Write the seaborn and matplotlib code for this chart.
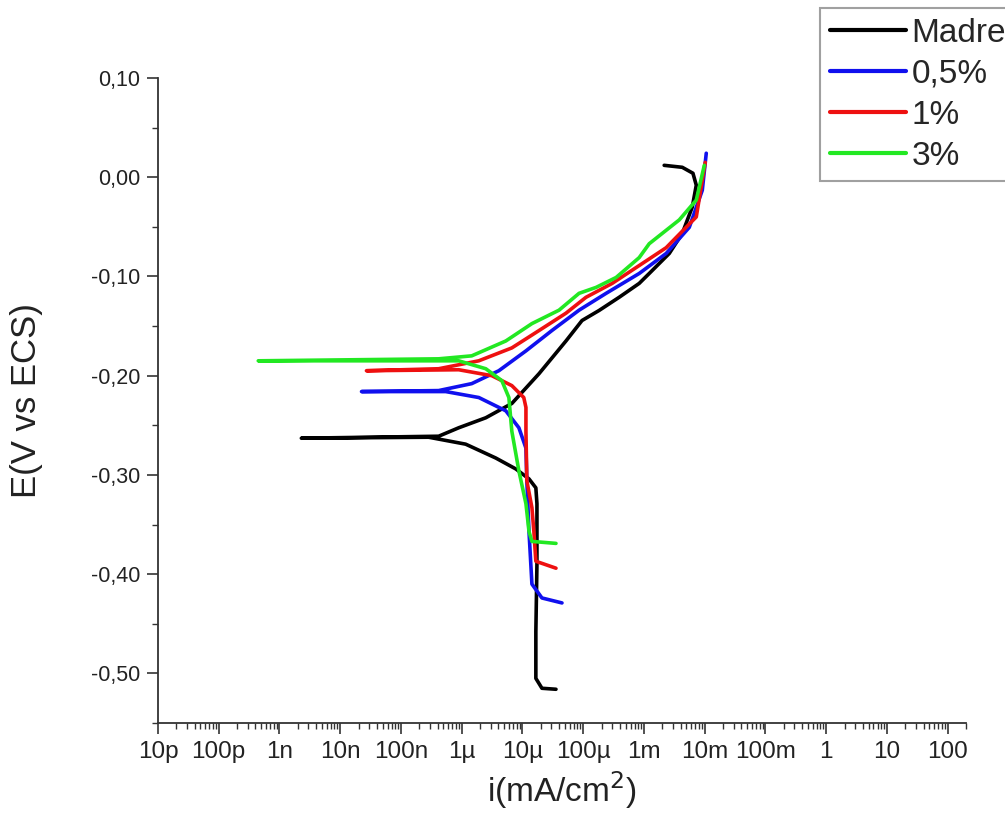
import numpy as np
import pandas as pd
import matplotlib
matplotlib.use("Agg")
import matplotlib.pyplot as plt
import matplotlib.ticker as mticker
import seaborn as sns

# ---- data ----
series_names = ["Madre", "0,5%", "1%", "3%"]
series_colors = ["#000000", "#1010ee", "#ee1010", "#22e822"]

madre_i = [3.56e-5, 2.09e-5, 1.66e-5, 1.66e-5, 1.73e-5, 1.73e-5, 1.66e-5, 1.28e-5,
           7.78e-6, 3.64e-6, 1.16e-6, 2.85e-7, 2.29e-9, 4.17e-7, 8.91e-7, 2.49e-6,
           6.68e-6, 1.87e-5, 5.20e-5, 9.55e-5, 1.82e-4, 3.90e-4, 8.34e-4, 1.22e-3,
           2.61e-3, 4.27e-3, 6.24e-3, 7.26e-3, 6.40e-3, 4.27e-3, 2.15e-3]
madre_E = [-0.516, -0.515, -0.505, -0.458, -0.390, -0.329, -0.313, -0.304,
           -0.294, -0.283, -0.269, -0.262, -0.263, -0.261, -0.2525, -0.2424,
           -0.228, -0.198, -0.165, -0.1444, -0.1343, -0.121, -0.107, -0.097,
           -0.0768, -0.0566, -0.030, -0.008, 0.004, 0.010, 0.012]

p05_i = [4.47e-5, 2.09e-5, 1.43e-5, 1.28e-5, 1.18e-5, 1.14e-5, 8.73e-6, 5.32e-6,
         1.91e-6, 5.44e-7, 2.24e-8, 4.17e-7, 1.46e-6, 4.08e-6, 1.14e-5, 3.05e-5,
         8.53e-5, 2.38e-4, 8.34e-4, 2.32e-3, 5.57e-3, 9.12e-3, 1.06e-2]
p05_E = [-0.429, -0.424, -0.410, -0.357, -0.306, -0.273, -0.2525, -0.2354,
         -0.222, -0.216, -0.216, -0.215, -0.208, -0.195, -0.175, -0.1545,
         -0.134, -0.117, -0.097, -0.0768, -0.0505, -0.0131, 0.0242]

p1_i = [3.56e-5, 1.66e-5, 1.54e-5, 1.43e-5, 1.18e-5, 1.14e-5, 1.14e-5, 1.05e-5,
        6.68e-6, 3.13e-6, 8.91e-7, 2.70e-8, 4.17e-7, 1.91e-6, 6.68e-6, 1.87e-5,
        5.20e-5, 1.11e-4, 2.99e-4, 8.34e-4, 2.32e-3, 7.26e-3, 1.02e-2]
p1_E = [-0.394, -0.387, -0.357, -0.333, -0.306, -0.256, -0.232, -0.222,
        -0.210, -0.200, -0.194, -0.195, -0.193, -0.185, -0.172, -0.1545,
        -0.137, -0.121, -0.107, -0.089, -0.071, -0.040, 0.015]

p3_i = [3.56e-5, 1.43e-5, 1.28e-5, 1.14e-5, 8.73e-6, 6.68e-6, 5.97e-6, 4.57e-6,
        2.49e-6, 8.91e-7, 4.47e-10, 4.17e-7, 1.46e-6, 5.32e-6, 1.43e-5, 3.99e-5,
        8.53e-5, 1.63e-4, 3.48e-4, 8.34e-4, 1.22e-3, 3.81e-3, 7.26e-3, 9.84e-3]
p3_E = [-0.369, -0.367, -0.357, -0.329, -0.296, -0.256, -0.222, -0.205,
        -0.193, -0.185, -0.185, -0.183, -0.180, -0.165, -0.1475, -0.134,
        -0.117, -0.111, -0.101, -0.081, -0.067, -0.043, -0.023, 0.012]

x_tick_values = [1e-11, 1e-10, 1e-9, 1e-8, 1e-7, 1e-6, 1e-5, 1e-4, 1e-3, 1e-2, 1e-1, 1, 10, 100]
x_tick_labels = ["10p", "100p", "1n", "10n", "100n", "1\u00b5", "10\u00b5", "100\u00b5",
                 "1m", "10m", "100m", "1", "10", "100"]
y_tick_values = [0.10, 0.00, -0.10, -0.20, -0.30, -0.40, -0.50]
y_tick_labels = ["0,10", "0,00", "-0,10", "-0,20", "-0,30", "-0,40", "-0,50"]

# ---- build table ----
frames = []
for name, ii, ee in zip(series_names, [madre_i, p05_i, p1_i, p3_i],
                        [madre_E, p05_E, p1_E, p3_E]):
    frames.append(pd.DataFrame({"i": ii, "E": ee, "serie": name}))
df = pd.concat(frames, ignore_index=True)

sns.set_style("ticks")
plt.rcParams["font.family"] = ["Liberation Sans", "DejaVu Sans"]

fig = plt.figure(figsize=(10.05, 8.31), dpi=100)
ax = fig.add_axes([158 / 1005, 108 / 831, (966 - 158) / 1005, (723 - 78) / 831])

sns.lineplot(data=df, x="i", y="E", hue="serie", hue_order=series_names,
             palette=dict(zip(series_names, series_colors)), sort=False,
             estimator=None, units="serie", linewidth=2.6, ax=ax, legend=True)
for ln in ax.lines:
    ln.set_solid_joinstyle("round")
    ln.set_solid_capstyle("round")

ax.set_xscale("log")
ax.set_xlim(1e-11, 2e2)
ax.set_ylim(-0.55, 0.10)

ax.set_xticks(x_tick_values)
ax.set_xticklabels(x_tick_labels)
ax.xaxis.set_minor_locator(mticker.LogLocator(base=10, subs=np.arange(2, 10), numticks=100))
ax.xaxis.set_minor_formatter(mticker.NullFormatter())
ax.set_yticks(y_tick_values)
ax.set_yticklabels(y_tick_labels)
ax.yaxis.set_minor_locator(mticker.MultipleLocator(0.05))

for s in ["top", "right"]:
    ax.spines[s].set_visible(False)
for s in ["left", "bottom"]:
    ax.spines[s].set_linewidth(1.3)
    ax.spines[s].set_color("#333333")

ax.tick_params(axis="both", which="major", direction="out", length=8, width=1.2,
               colors="#333333", labelcolor="#222222")
ax.tick_params(axis="both", which="minor", direction="out", length=4.5, width=1.0,
               colors="#333333")
ax.tick_params(axis="x", which="major", labelsize=17.5, pad=5)
ax.tick_params(axis="y", which="major", labelsize=15.5, pad=5)

ax.set_xlabel("i(mA/cm$^2$)", fontsize=24, color="#222222")
ax.set_ylabel("E(V vs ECS)", fontsize=25, color="#222222")
ax.xaxis.set_label_coords(0.5, -0.072)
ax.yaxis.set_label_coords(-0.142, 0.5)

handles, labels = ax.get_legend_handles_labels()
ax.get_legend().remove()
for h in handles:
    h.set_linewidth(3)
leg = fig.legend(handles, labels, loc="upper left",
                 bbox_to_anchor=(820 / 1005, 1 - 8 / 831), fontsize=24,
                 frameon=True, fancybox=False, handlelength=2.3, handletextpad=0.15,
                 labelspacing=0.3, borderpad=0.29, borderaxespad=0)
leg.get_frame().set_edgecolor("#888888")
leg.get_frame().set_linewidth(1.5)

fig.savefig("out.png", dpi=100)
